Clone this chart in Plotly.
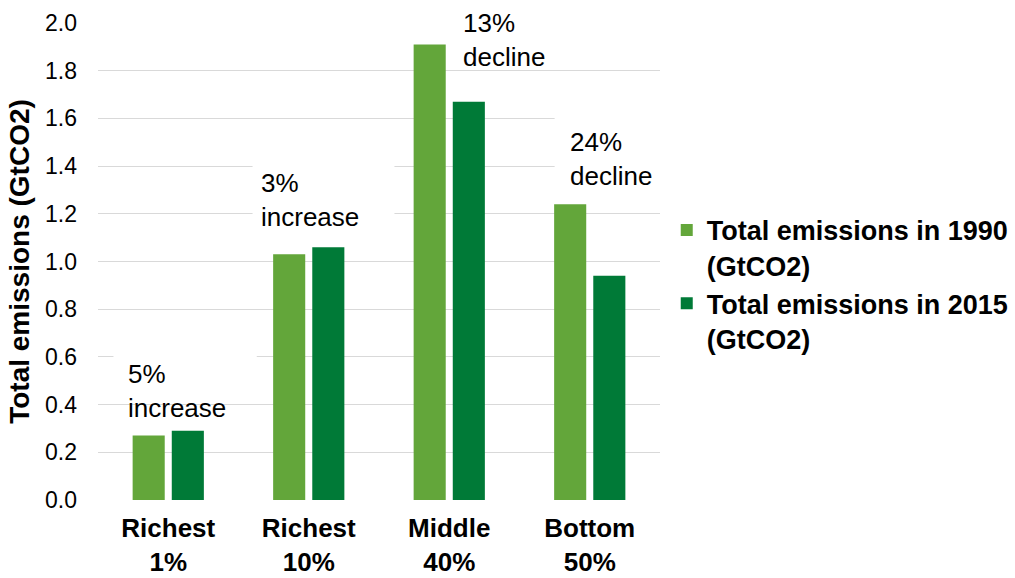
import plotly.graph_objects as go

categories = ["Richest<br>1%", "Richest<br>10%", "Middle<br>40%", "Bottom<br>50%"]
emissions_1990 = [0.27, 1.03, 1.91, 1.24]
emissions_2015 = [0.29, 1.06, 1.67, 0.94]
series_names = ["Total emissions in 1990<br>(GtCO2)", "Total emissions in 2015<br>(GtCO2)"]
change_labels = ["5%<br>increase", "3%<br>increase", "13%<br>decline", "24%<br>decline"]
y_tick_values = [0.0, 0.2, 0.4, 0.6, 0.8, 1.0, 1.2, 1.4, 1.6, 1.8, 2.0]

FONT = "Liberation Sans, Arial, sans-serif"
LIGHT = "#63A63A"
DARK = "#007A37"

fig = go.Figure()
fig.add_trace(go.Bar(x=list(range(4)), y=emissions_1990, name=series_names[0],
                     marker=dict(color=LIGHT, line=dict(width=0))))
fig.add_trace(go.Bar(x=list(range(4)), y=emissions_2015, name=series_names[1],
                     marker=dict(color=DARK, line=dict(width=0))))

# label placement (category index offset, value)
label_pos = [(-0.30, 0.457), (0.645, 1.258), (2.085, 1.929), (2.845, 1.43)]
# white text-box backgrounds that interrupt gridlines
boxes = [(-0.39, 0.63, 0.50, 0.66), (0.60, 1.61, 1.18, 1.47),
         (2.005, 3.02, 1.90, 2.10), (2.75, 3.6, 1.30, 1.65)]
for (x0, x1, y0, y1) in boxes:
    fig.add_shape(type="rect", xref="x", yref="y", x0=x0, x1=x1, y0=y0, y1=y1,
                  fillcolor="white", line=dict(width=0), layer="between")
for txt, (px, py) in zip(change_labels, label_pos):
    fig.add_annotation(x=px, y=py, xref="x", yref="y", text=txt, showarrow=False,
                       xanchor="left", yanchor="middle", align="left",
                       font=dict(family=FONT, size=26, color="#000000"))

fig.update_layout(
    width=1015, height=578,
    margin=dict(l=98, r=355, t=23, b=78, autoexpand=False),
    paper_bgcolor="white", plot_bgcolor="white",
    barmode="group", bargap=0.443, bargroupgap=0.18,
    font=dict(family=FONT, color="#000000"),
    legend=dict(x=1.012, y=0.452, xanchor="left", yanchor="middle",
                valign="top", font=dict(family=FONT, size=27, weight="bold"),
                bgcolor="rgba(0,0,0,0)", tracegroupgap=0),
    xaxis=dict(tickmode="array", tickvals=list(range(4)), ticktext=categories,
               range=[-0.5, 3.5], showgrid=False, zeroline=False, showline=False,
               ticks="", ticklabelstandoff=10,
               tickfont=dict(family=FONT, size=26, weight="bold", color="#000000")),
    yaxis=dict(range=[0, 2.0], tickvals=y_tick_values, tickformat=".1f",
               showgrid=True, gridcolor="#D9D9D9", gridwidth=1.3,
               zeroline=False, showline=False, ticks="", ticklabelstandoff=20,
               tickfont=dict(family=FONT, size=23, color="#000000"),
               title=dict(text="Total emissions (GtCO2)", standoff=7,
                          font=dict(family=FONT, size=28, weight="bold", color="#000000"))),
)

fig.write_html("out.html", config={"displayModeBar": False},
               post_script="document.body.style.margin='0px';")
